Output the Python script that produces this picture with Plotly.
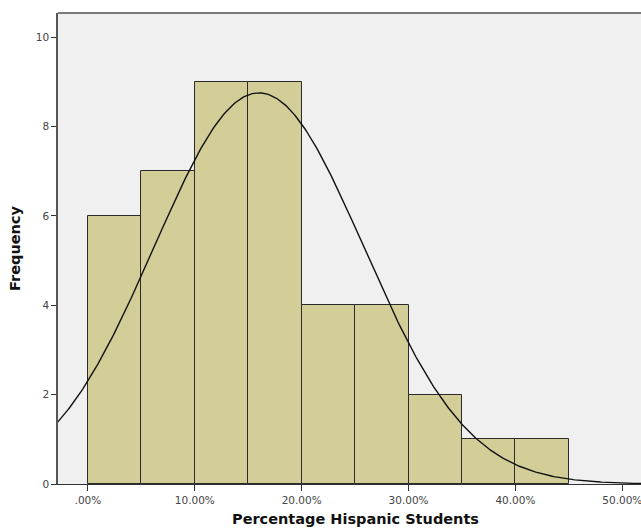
import numpy as np
import plotly.graph_objects as go

# Histogram data
bin_starts = [0, 5, 10, 15, 20, 25, 30, 35, 40]
bin_width = 5
counts = [6, 7, 9, 9, 4, 4, 2, 1, 1]

# Fitted normal curve parameters
curve_mean = 16.0
curve_sd = 9.8

x_tickvals = [0, 10, 20, 30, 40, 50]
x_ticktext = [".00%", "10.00%", "20.00%", "30.00%", "40.00%", "50.00%"]
y_tickvals = [0, 2, 4, 6, 8, 10]

centers = [s + bin_width / 2 for s in bin_starts]
n_total = sum(counts)
xs = np.linspace(-3, 53, 400)
ys = n_total * bin_width / (curve_sd * np.sqrt(2 * np.pi)) * np.exp(-0.5 * ((xs - curve_mean) / curve_sd) ** 2)

fig = go.Figure()
fig.add_trace(go.Bar(
    x=centers, y=counts, width=bin_width,
    marker=dict(color="#d3ce98", line=dict(color="#2a2a2a", width=1)),
    hoverinfo="skip",
))
fig.add_trace(go.Scatter(
    x=xs, y=ys, mode="lines",
    line=dict(color="#111111", width=1.4),
    hoverinfo="skip",
))

# top frame line (gray)
fig.add_shape(type="line", xref="paper", yref="paper", x0=0, x1=1, y0=1, y1=1,
              line=dict(color="#7a7a7a", width=2))

# x-axis title as annotation
fig.add_annotation(text="<b>Percentage Hispanic Students</b>",
                   xref="paper", yref="paper", x=0.51, y=-0.054,
                   xanchor="center", yanchor="top", showarrow=False,
                   font=dict(family="DejaVu Sans", size=14.5, color="#111111"))

fig.update_layout(
    width=641, height=529,
    margin=dict(l=58, r=0, t=13, b=45),
    paper_bgcolor="white",
    plot_bgcolor="#f0f0f0",
    showlegend=False,
    bargap=0,
    font=dict(family="DejaVu Sans", size=10.5, color="#444444"),
    xaxis=dict(
        range=[-2.8, 51.75],
        tickvals=x_tickvals, ticktext=x_ticktext,
        ticklabeloverflow="allow",
        ticks="outside", ticklen=6, tickcolor="#333333",
        showgrid=False, zeroline=False,
        showline=True, linecolor="#333333", linewidth=1,
    ),
    yaxis=dict(
        range=[0, 10.54],
        tickvals=y_tickvals,
        ticks="outside", ticklen=5, tickcolor="#333333",
        showgrid=False, zeroline=False,
        showline=True, linecolor="#555555", linewidth=1.5,
        title=dict(text="<b>Frequency</b>",
                   font=dict(family="DejaVu Sans", size=14.5, color="#111111"),
                   standoff=12),
    ),
)

fig.write_html("out.html")
